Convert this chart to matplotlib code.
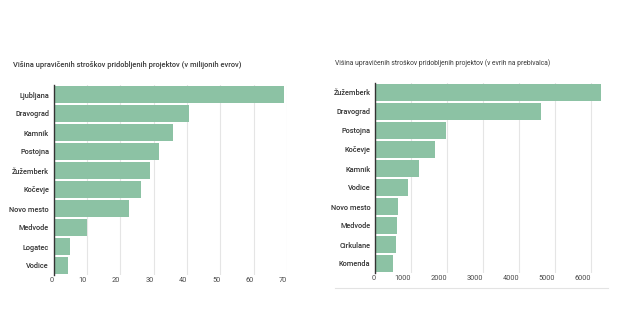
import matplotlib.pyplot as plt
from matplotlib.lines import Line2D
from matplotlib.transforms import ScaledTranslation

left_cities = ["Ljubljana", "Dravograd", "Kamnik", "Postojna", "Žužemberk",
               "Kočevje", "Novo mesto", "Medvode", "Logatec", "Vodice"]
left_values = [69.0, 40.6, 35.8, 31.7, 29.0, 26.1, 22.6, 9.9, 5.0, 4.4]
left_ticks = [0, 10, 20, 30, 40, 50, 60, 70]

right_cities = ["Žužemberk", "Dravograd", "Postojna", "Kočevje", "Kamnik",
                "Vodice", "Novo mesto", "Medvode", "Cirkulane", "Komenda"]
right_values = [6260, 4600, 1955, 1660, 1220, 915, 620, 610, 565, 500]
right_ticks = [0, 1000, 2000, 3000, 4000, 5000, 6000]

bar_color = "#8cc2a4"
text_color = "#333333"

plt.rcParams["font.family"] = ["Roboto", "DejaVu Sans"]

fig = plt.figure(figsize=(6.2, 3.3), dpi=100)
ax1 = fig.add_axes([53.5 / 620, 55 / 330, 233.5 / 620, 190 / 330])
ax2 = fig.add_axes([375.3 / 620, 57 / 330, 226.8 / 620, 190 / 330])


def style(ax, cities, values, ticks, xmax, ypad):
    y = list(range(len(cities)))
    ax.barh(y, values, height=0.88, color=bar_color, zorder=2)
    ax.set_yticks(y)
    ax.set_yticklabels(cities, fontsize=5.3, color=text_color, fontweight="medium")
    ax.set_ylim(len(cities) - 0.5, -0.5)
    ax.set_xlim(0, xmax)
    ax.set_xticks(ticks)
    ax.set_xticklabels([str(t) for t in ticks], fontsize=5.3, color="#4a4a4a",
                       ha="right")
    # shift labels a little left of their gridlines, like the original
    off = ScaledTranslation(-2.5 / 100, 0, fig.dpi_scale_trans)
    for lab in ax.get_xticklabels():
        lab.set_transform(lab.get_transform() + off)
    ax.tick_params(axis="both", length=0)
    ax.tick_params(axis="y", pad=ypad)
    ax.tick_params(axis="x", pad=1.5)
    ax.grid(axis="x", color="#e5e5e5", linewidth=0.8, zorder=0)
    for s in ["top", "right", "bottom"]:
        ax.spines[s].set_visible(False)
    ax.spines["left"].set_color("#333333")
    ax.spines["left"].set_linewidth(1.0)
    ax.spines["left"].set_zorder(3)


style(ax1, left_cities, left_values, left_ticks, 70, 3.2)
style(ax2, right_cities, right_values, right_ticks, 6300, 3.6)

fig.text(13 / 620, 1 - 65 / 330, "Višina upravičenih stroškov pridobljenih projektov (v milijonih evrov)",
         fontsize=5.4, color="#3a3a3a", fontweight="medium", va="center")
fig.text(335 / 620, 1 - 63.5 / 330, "Višina upravičenih stroškov pridobljenih projektov (v evrih na prebivalca)",
         fontsize=4.85, color="#3a3a3a", va="center")

fig.add_artist(Line2D([335 / 620, 608 / 620], [1 - 288 / 330, 1 - 288 / 330],
                      color="#e3e3e3", linewidth=0.8))

fig.savefig("out.png", dpi=100)
